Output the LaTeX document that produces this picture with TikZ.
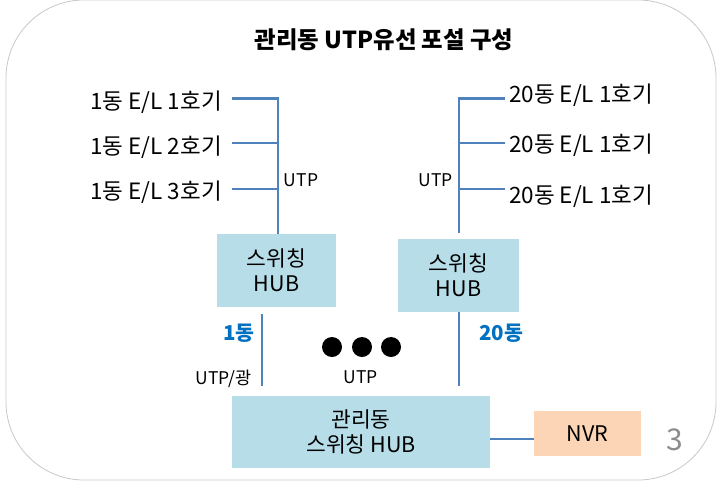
\documentclass[tikz,border=0pt]{standalone}
\usepackage{fontspec}
\setmainfont{Noto Sans CJK KR}
\usetikzlibrary{calc}
\definecolor{hubblue}{HTML}{B7DDE8}
\definecolor{nvrorange}{HTML}{FBD5B5}
\definecolor{linkblue}{HTML}{4F81BD}
\definecolor{dongblue}{HTML}{0070C0}
\definecolor{framegray}{HTML}{C8C8C8}
\definecolor{pagegray}{HTML}{8C8C8C}
\begin{document}
\begin{tikzpicture}[x=1pt,y=-1pt,
  box/.style={inner sep=0pt, align=center, font=\fontsize{21.5}{25}\selectfont},
  hubbox/.style={box, fill=hubblue},
  elabel/.style={inner sep=0pt, font=\fontsize{22.5}{26}\selectfont},
  small/.style={inner sep=0pt, font=\fontsize{17.5}{20}\selectfont},
  dong/.style={inner sep=0pt, font=\bfseries\fontsize{20.5}{24}\selectfont, text=dongblue},
  wire/.style={draw=linkblue, line width=2.5pt},
  thinwire/.style={draw=linkblue, line width=2pt},
  dot/.style={circle, fill=black, inner sep=0pt, minimum size=20pt}]
\useasboundingbox (0,0) rectangle (720,485);
\draw[framegray, line width=0.8pt, rounded corners=78pt] (6,480) rectangle (716,0);

\node[inner sep=0pt, font=\bfseries\fontsize{23.4}{27}\selectfont] (title) at (384,40) {관리동 UTP유선 포설 구성};

% hubs
\node[hubbox, minimum width=119pt, minimum height=73pt] (lhub) at (276.5,270.5) {스위칭\\HUB};
\node[hubbox, minimum width=121pt, minimum height=73pt] (rhub) at (458.5,275.5) {스위칭\\HUB};
\node[hubbox, minimum width=258pt, minimum height=72pt] (mhub) at (361,432) {관리동\\스위칭 HUB};
\node[box, fill=nvrorange, minimum width=107pt, minimum height=45pt] (nvr) at (587.5,433.5) {NVR};

% left labels
\node[elabel, anchor=east] (l1) at (222,102) {1동 E/L 1호기};
\node[elabel, anchor=east] (l2) at (222,147) {1동 E/L 2호기};
\node[elabel, anchor=east] (l3) at (222,192) {1동 E/L 3호기};
\coordinate (lj1) at (278,98);
\coordinate (lj2) at (278,143);
\coordinate (lj3) at (278,189);
\draw[wire] ($(lhub.north)+(1.5,0)$) -- ($(lj1)+(0,-1.5)$);
\draw[thinwire, line width=3pt] ([xshift=10pt]l1.east |- lj1) -- (lj1);
\draw[thinwire] ([xshift=10pt]l2.east |- lj2) -- (lj2);
\draw[thinwire] ([xshift=10pt]l3.east |- lj3) -- (lj3);
\node[small] (utpl) at (301,180) {UTP};

% right labels
\node[elabel, anchor=west] (r1) at (509,95) {20동 E/L 1호기};
\node[elabel, anchor=west] (r2) at (509,145) {20동 E/L 1호기};
\node[elabel, anchor=west] (r3) at (509,196) {20동 E/L 1호기};
\coordinate (rj1) at (459,98);
\coordinate (rj2) at (459,143);
\coordinate (rj3) at (459,189);
\coordinate (rjb) at (459,233);
\draw[wire] (rjb) -- ($(rj1)+(0,-1.5)$);
\draw[thinwire, line width=3pt] (rj1) -- ([xshift=-4pt]r1.west |- rj1);
\draw[thinwire] (rj2) -- ([xshift=-4pt]r2.west |- rj2);
\draw[thinwire] (rj3) -- ([xshift=-4pt]r3.west |- rj3);
\node[small] (utpr) at (435.5,180) {UTP};

% lower links
\coordinate (lb1) at (262,314);
\coordinate (lb2) at (262,386);
\coordinate (rb2) at (459,386);
\draw[wire] (lb1) -- (lb2);
\draw[wire] (rhub.south -| rb2) -- (rb2);
\node[dong] (d1) at (239,333) {1동};
\node[dong] (d20) at (501,333) {20동};
\node[small] (utpg) at (223.5,379) {UTP/광};
\node[small] (utpm) at (360.5,377) {UTP};
\node[dot] (dot1) at (332,347) {};
\node[dot] (dot2) at (362,347) {};
\node[dot] (dot3) at (391,347) {};

% NVR link
\draw[thinwire] ([yshift=-7pt]mhub.east) -- ([yshift=-7pt]mhub.east -| nvr.west);

\node[inner sep=0pt, text=pagegray, font=\fontsize{30}{34}\selectfont] (page) at (674.5,440) {3};
\end{tikzpicture}
\end{document}
